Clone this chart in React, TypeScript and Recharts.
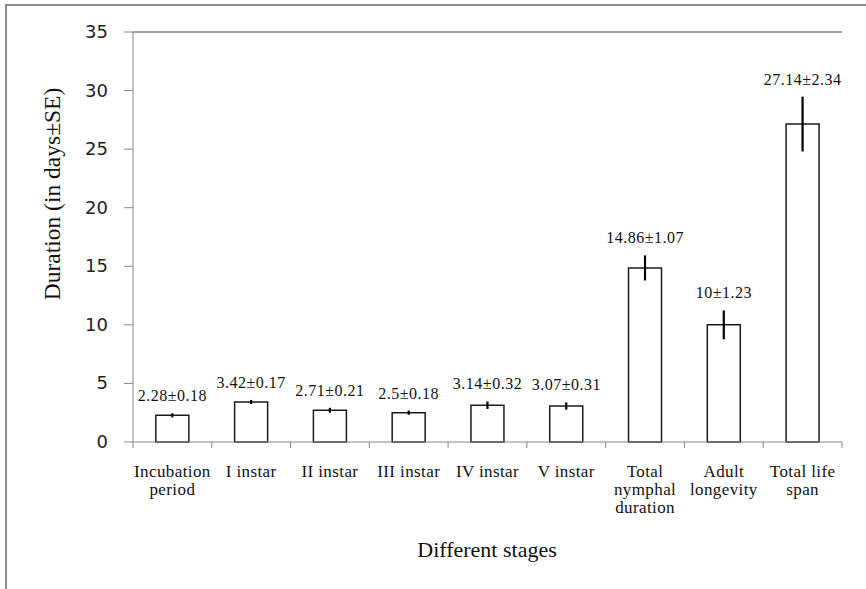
import React from "react";
import { ComposedChart, Bar, Line, XAxis, YAxis, ErrorBar, LabelList, Label, ReferenceLine } from "recharts";

const categories = [
  "Incubation\nperiod",
  "I instar",
  "II instar",
  "III instar",
  "IV instar",
  "V instar",
  "Total\nnymphal\nduration",
  "Adult\nlongevity",
  "Total life\nspan",
];
const means = [2.28, 3.42, 2.71, 2.5, 3.14, 3.07, 14.86, 10, 27.14];
const errors = [0.18, 0.17, 0.21, 0.18, 0.32, 0.31, 1.07, 1.23, 2.34];
const yTicks = [0, 5, 10, 15, 20, 25, 30, 35];

const data = categories.map((c, i) => ({
  name: c,
  mean: means[i],
  err: errors[i],
  top: means[i] + errors[i],
  label: `${means[i]}±${errors[i]}`,
}));

const AXIS_GRAY = "#868686";
const FRAME = "#404040";
const SERIF = "'Liberation Serif', 'Times New Roman', serif";
const SANS = "'DejaVu Sans', Verdana, sans-serif";

const XTick = (props: any) => {
  const { x, y, payload, index } = props;
  const off = payload && payload.offset ? payload.offset : 0;
  const lines = String(payload.value).split("\n");
  return (
    <g>
      <line x1={x - off} x2={x - off} y1={y} y2={y + 6} stroke={AXIS_GRAY} strokeWidth={1} />
      {index === categories.length - 1 && (
        <line x1={x + off} x2={x + off} y1={y} y2={y + 6} stroke={AXIS_GRAY} strokeWidth={1} />
      )}
      <text
        x={x}
        y={y + 35}
        textAnchor="middle"
        fontFamily={SERIF}
        fontSize={17}
        letterSpacing={0.4}
        fill="#111"
      >
        {lines.map((l, i) => (
          <tspan key={i} x={x} dy={i === 0 ? 0 : 18}>
            {l}
          </tspan>
        ))}
      </text>
    </g>
  );
};

const YTick = (props: any) => {
  const { x, y, payload } = props;
  return (
    <text x={x} y={y} dy={6} textAnchor="end" fontFamily={SANS} fontSize={18} fill="#222">
      {payload.value}
    </text>
  );
};

const TopLabel = (props: any) => {
  const vb = props.viewBox || {};
  const x = props.x !== undefined ? props.x : vb.x;
  const y = props.y !== undefined ? props.y : vb.y;
  return (
    <text
      x={x}
      y={y - 12}
      textAnchor="middle"
      fontFamily={SERIF}
      fontSize={16}
      letterSpacing={0.5}
      fill="#111"
    >
      {props.value}
    </text>
  );
};

export default function App() {
  return (
    <div style={{ position: "absolute", left: 0, top: 0, width: 866, height: 589, background: "#fff" }}>
      <div
        style={{
          position: "absolute",
          left: 5,
          top: 4,
          width: 870,
          height: 600,
          borderLeft: "2px solid #8c8c8c",
          borderTop: "2px solid #8c8c8c",
        }}
      />
      <div style={{ position: "absolute", left: 0, top: 0 }}>
        <ComposedChart
          width={866}
          height={589}
          data={data}
          margin={{ top: 32, right: 24, bottom: 0, left: 0 }}
          barCategoryGap="29%"
        >
          <XAxis
            xAxisId="main"
            dataKey="name"
            height={147}
            interval={0}
            axisLine={{ stroke: AXIS_GRAY, strokeWidth: 1 }}
            tickLine={false}
            tickSize={0}
            tickMargin={0}
            tick={<XTick />}
          >
            <Label
              content={() => (
                <text x={487} y={557} textAnchor="middle" fontFamily={SERIF} fontSize={22} fill="#111">
                  Different stages
                </text>
              )}
            />
          </XAxis>
          <YAxis
            yAxisId="left"
            width={133}
            domain={[0, 35]}
            ticks={yTicks}
            interval={0}
            tickSize={9}
            tickMargin={16}
            axisLine={{ stroke: AXIS_GRAY, strokeWidth: 1 }}
            tickLine={{ stroke: AXIS_GRAY, strokeWidth: 1 }}
            tick={<YTick />}
          >
            <Label
              content={() => (
                <text
                  x={52}
                  y={194}
                  transform="rotate(-90 52 194)"
                  textAnchor="middle"
                  dominantBaseline="central"
                  fontFamily={SERIF}
                  fontSize={23.5}
                  fill="#111"
                >
                  Duration (in days±SE)
                </text>
              )}
            />
          </YAxis>
          <YAxis
            yAxisId="right"
            orientation="right"
            width={0}
            domain={[0, 35]}
            tick={false}
            tickLine={false}
            axisLine={{ stroke: FRAME, strokeWidth: 1 }}
          />
          <ReferenceLine
            xAxisId="main"
            yAxisId="left"
            y={35}
            stroke={FRAME}
            strokeWidth={1}
            ifOverflow="visible"
          />
          <Bar
            xAxisId="main"
            yAxisId="left"
            dataKey="mean"
            fill="#ffffff"
            stroke="#1a1a1a"
            strokeWidth={1.5}
            isAnimationActive={false}
          >
            <ErrorBar dataKey="err" width={0} stroke="#000" strokeWidth={2.2} direction="y" />
          </Bar>
          <Line
            xAxisId="main"
            yAxisId="left"
            dataKey="top"
            stroke="none"
            dot={false}
            activeDot={false}
            isAnimationActive={false}
          >
            <LabelList dataKey="label" content={<TopLabel />} />
          </Line>
        </ComposedChart>
      </div>
    </div>
  );
}
